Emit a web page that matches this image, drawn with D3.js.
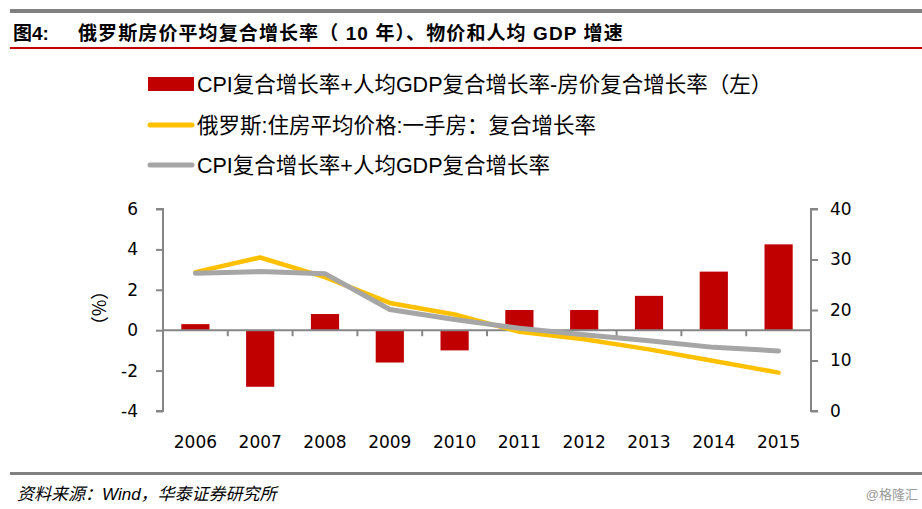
<!DOCTYPE html>
<html><head><meta charset="utf-8">
<script src="https://cdn.jsdelivr.net/npm/d3@7/dist/d3.min.js"></script>
<style>body{margin:0;background:#fff}svg{display:block}</style>
</head><body>
<svg id="c" width="922" height="509"></svg>
<script>
const years = ["2006","2007","2008","2009","2010","2011","2012","2013","2014","2015"];
const gapValues = [0.3,-2.8,0.8,-1.6,-1.0,1.0,1.0,1.7,2.9,4.25];
const housePrice = [27.5,30.4,26.5,21.4,19.1,15.7,14.2,12.2,9.9,7.6];
const cpiGdp = [27.3,27.6,27.2,20.1,18.1,16.4,15.1,13.9,12.6,11.9];
const leftTicks = [-4,-2,0,2,4,6];
const rightTicks = [0,10,20,30,40];
const legendLabels = ["CPI复合增长率+人均GDP复合增长率-房价复合增长率（左）","俄罗斯:住房平均价格:一手房：复合增长率","CPI复合增长率+人均GDP复合增长率"];
const colors = {bar:"#c00000", house:"#ffc000", cpi:"#a6a6a6", axis:"#868686"};

const svg = d3.select("#c");
const cjk = "'Liberation Sans','Noto Sans CJK SC',sans-serif";
const num = "'DejaVu Sans',sans-serif";
const X0 = 163, X1 = 811;

// header
svg.append("rect").attr("x",10).attr("y",9).attr("width",912).attr("height",4).attr("fill","#808080");
svg.append("rect").attr("x",10).attr("y",47).attr("width",912).attr("height",2).attr("fill","#c00000");
svg.append("text").attr("x",13).attr("y",40).attr("font-family",cjk).attr("font-weight","bold").attr("font-size",19).text("图4:");
svg.append("text").attr("x",78).attr("y",40).attr("font-family",cjk).attr("font-weight","bold").attr("font-size",19).attr("letter-spacing",1.1).text("俄罗斯房价平均复合增长率（ 10 年）、物价和人均 GDP 增速");

// footer
svg.append("rect").attr("x",10).attr("y",472).attr("width",912).attr("height",3).attr("fill","#808080");
svg.append("text").attr("x",17).attr("y",500).attr("font-family",cjk).attr("font-style","italic").attr("font-size",17).text("资料来源：Wind，华泰证券研究所");
svg.append("text").attr("x",918).attr("y",499).attr("text-anchor","end").attr("font-family",cjk).attr("font-size",13).attr("fill","#999").text("@格隆汇");

// scales
const x = d3.scaleBand().domain(years).range([X0,X1]).paddingInner(0.565).paddingOuter(0.2825);
const xc = d3.scaleBand().domain(years).range([X0,X1]);
const yL = d3.scaleLinear().domain([-4,6]).range([411,209]);
const yR = d3.scaleLinear().domain([0,40]).range([411,209]);

// bars
svg.append("g").selectAll("rect").data(years).join("rect")
  .attr("x",d=>x(d)).attr("width",x.bandwidth())
  .attr("y",(d,i)=>yL(Math.max(0,gapValues[i])))
  .attr("height",(d,i)=>Math.abs(yL(gapValues[i])-yL(0)))
  .attr("fill",colors.bar);

// axes
const fmt = d => String(d);
const gl = svg.append("g").attr("transform",`translate(${X0},0)`)
  .call(d3.axisLeft(yL).tickValues(leftTicks).tickSize(7).tickPadding(18).tickFormat(fmt));
const gr = svg.append("g").attr("transform",`translate(${X1},0)`)
  .call(d3.axisRight(yR).tickValues(rightTicks).tickSize(7).tickPadding(12).tickFormat(fmt));
[gl,gr].forEach(g=>{
  g.selectAll("path,line").attr("stroke",colors.axis).attr("stroke-width",2);
  g.select(".domain").attr("d", g===gl ? "M-7,209H0V411H-7" : "M7,209H0V411H7");
  g.selectAll("text").attr("font-family",num).attr("font-size",17).attr("fill","#000");
});

// zero line & category ticks
svg.append("line").attr("x1",X0).attr("x2",X1).attr("y1",yL(0)).attr("y2",yL(0)).attr("stroke",colors.axis).attr("stroke-width",2);
svg.append("g").selectAll("line").data(years.slice(1)).join("line")
  .attr("x1",d=>xc(d)).attr("x2",d=>xc(d)).attr("y1",yL(0)).attr("y2",yL(0)+6)
  .attr("stroke",colors.axis).attr("stroke-width",2);
svg.append("g").selectAll("text").data(years).join("text")
  .attr("x",d=>xc(d)+xc.bandwidth()/2).attr("y",448).attr("text-anchor","middle")
  .attr("font-family",num).attr("font-size",17).text(d=>d);

// lines
const line = arr => d3.line().x((d,i)=>xc(years[i])+xc.bandwidth()/2).y(d=>yR(d))(arr);
svg.append("path").attr("d",line(housePrice)).attr("fill","none").attr("stroke",colors.house).attr("stroke-width",4.5).attr("stroke-linecap","round").attr("stroke-linejoin","round");
svg.append("path").attr("d",line(cpiGdp)).attr("fill","none").attr("stroke",colors.cpi).attr("stroke-width",5).attr("stroke-linecap","round").attr("stroke-linejoin","round");

// y label
svg.append("text").attr("transform","translate(100,308) rotate(-90)").attr("dy","0.35em").attr("text-anchor","middle")
  .attr("font-family","'Noto Sans CJK SC',sans-serif").attr("font-size",18).text("（%）");

// legend
const ly = [84,125,165];
svg.append("rect").attr("x",148).attr("y",ly[0]-7).attr("width",46).attr("height",14).attr("fill",colors.bar);
svg.append("line").attr("x1",150).attr("x2",192).attr("y1",ly[1]).attr("y2",ly[1]).attr("stroke",colors.house).attr("stroke-width",5).attr("stroke-linecap","round");
svg.append("line").attr("x1",150).attr("x2",192).attr("y1",ly[2]).attr("y2",ly[2]).attr("stroke",colors.cpi).attr("stroke-width",5).attr("stroke-linecap","round");
svg.append("g").selectAll("text").data(legendLabels).join("text")
  .attr("x",197).attr("y",(d,i)=>ly[i]+8).attr("font-family",cjk).attr("font-size",21.5).text(d=>d);
</script>
</body></html>
